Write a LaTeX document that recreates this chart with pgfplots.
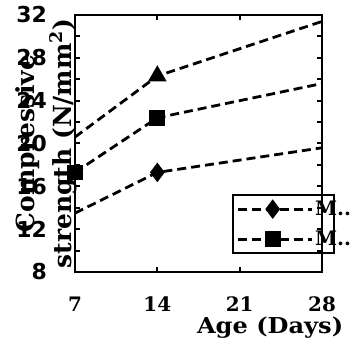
\documentclass[border=0pt]{standalone}
\usepackage{pgfplots}
\pgfplotsset{compat=1.18}
\usepackage{fontspec}
\setmainfont{DejaVu Serif}
\newfontfamily\tickfont{DejaVu Sans}
\newfontfamily\agefont[FakeStretch=1.1]{DejaVu Serif}
\begin{document}
\begin{tikzpicture}
\begin{axis}[name=ax, scale only axis, width=247bp, height=257bp,
  xmin=7, xmax=28, ymin=8, ymax=32,
  xtick={7,14,21,28}, ytick={8,12,16,20,24,28,32},
  minor y tick num=1,
  tick align=inside,
  major tick length=5bp, minor tick length=5bp,
  axis line style={line width=2bp},
  every tick/.style={line width=2bp, black},
  /pgf/number format/assume math mode=true,
  xticklabel style={font=\fontsize{20}{22}\selectfont\bfseries, inner sep=0pt, yshift=-25bp},
  yticklabel style={font=\tickfont\fontsize{22}{24}\selectfont\bfseries, inner sep=0pt, anchor=east, xshift=-28bp},
  xlabel={Age (Days)},
  xlabel style={font=\agefont\fontsize{22}{24}\selectfont\bfseries, at={(axis description cs:0.79,-0.218)}, anchor=center},
  ylabel={Compressive\\strength (N/mm$^{\mathbf{2}}$)},
  ylabel style={align=center, font=\fontsize{25}{37}\selectfont\bfseries, at={(axis description cs:-0.117,0.5)}, anchor=center},
  legend style={at={(axis description cs:1.053,0.303)}, anchor=north east, draw=black, line width=2bp, fill=none,
    font=\fontsize{20}{22}\selectfont\bfseries, inner xsep=3bp, inner ysep=4bp, row sep=10bp},
  legend cell align=left,
  legend image code/.code={\draw[#1, mark indices={2}] plot coordinates {(0bp,0bp) (35bp,0bp) (74bp,0bp)};},
  every axis plot/.append style={black, line width=2.8bp, dash pattern=on 9bp off 5bp, mark options={solid}},
  axis on top,
]
\addplot[mark=diamond*, mark size=7.5bp, mark indices={2}] coordinates {(7,13.5) (14,17.3) (28,19.6)};
\addlegendentry{\makebox[14bp][l]{M..}}
\addplot[mark=square*, mark size=6.5bp, mark indices={1,2}] coordinates {(7,17.3) (14,22.4) (28,25.6)};
\addlegendentry{\makebox[14bp][l]{M..}}
\addplot[mark=triangle*, mark size=8bp, mark indices={2}, forget plot] coordinates {(7,20.6) (14,26.3) (28,31.4)};
\end{axis}
\pgfresetboundingbox
\path ([xshift=-75bp,yshift=-73bp]ax.south west) rectangle ([xshift=40bp,yshift=15bp]ax.north east);
\end{tikzpicture}
\end{document}
